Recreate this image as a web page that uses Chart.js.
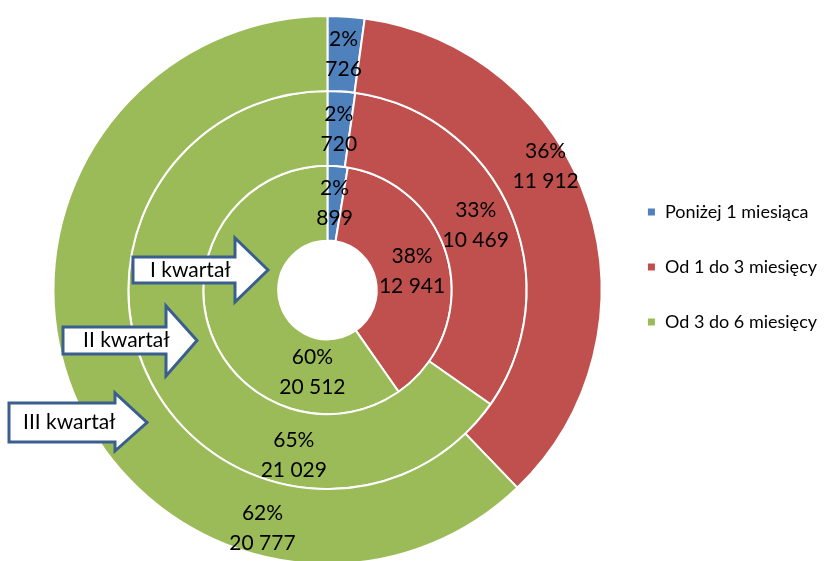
<!DOCTYPE html>
<html>
<head>
<meta charset="utf-8">
<script src="https://cdn.jsdelivr.net/npm/chart.js@4"></script>
<style>
  html,body{margin:0;padding:0;background:#fff;overflow:hidden}
  #wrap{width:829px;height:561px;overflow:hidden}
</style>
</head>
<body>
<div id="wrap"><canvas id="chart" width="829" height="580"></canvas></div>
<script>
// categories (legend)
let categories = ["Poniżej 1 miesiąca","Od 1 do 3 miesięcy","Od 3 do 6 miesięcy"];
let colors = ["#4F81BD","#C0504D","#9BBB59"];

// quarters, outer ring first (Chart.js draws dataset 0 outside)
let quarters = ["III kwartał","II kwartał","I kwartał"];
let q3 = [726, 11912, 20777];
let q2 = [720, 10469, 21029];
let q1 = [899, 12941, 20512];
// percent labels as printed in the picture
let q3pct = [2, 36, 62];
let q2pct = [2, 33, 65];
let q1pct = [2, 38, 60];

// where the labels sit inside each slice (fraction along arc, fraction across ring)
let labelAlong  = [[0.5,0.41,0.264],[0.5,0.5,0.283],[0.5,0.5,0.211]];
let labelAcross = [[0.5,0.69,0.64],[0.5,0.5,0.59],[0.5,0.5,0.455]];

function fmt(v){
    return String(v).replace(/\B(?=(\d{3})+(?!\d))/g," ");
}

const sliceLabels = {
    id:"sliceLabels",
    afterDatasetsDraw(chart){
        let ctx = chart.ctx;
        ctx.save();
        ctx.font = "21px Lato";
        ctx.fillStyle = "#000";
        ctx.textAlign = "center";
        ctx.textBaseline = "middle";
        chart.data.datasets.forEach((ds,di)=>{
            let meta = chart.getDatasetMeta(di);
            meta.data.forEach((arc,i)=>{
                let p = arc.getProps(["x","y","startAngle","endAngle","innerRadius","outerRadius"],true);
                let a = p.startAngle + labelAlong[di][i]*(p.endAngle-p.startAngle);
                let r = p.innerRadius + labelAcross[di][i]*(p.outerRadius-p.innerRadius);
                let x = p.x + Math.cos(a)*r;
                let y = p.y + Math.sin(a)*r;
                ctx.fillText(ds.pct[i]+"%", x, y-15);
                ctx.fillText(fmt(ds.data[i]), x, y+15);
            });
        });
        ctx.restore();
    }
};

// block arrows pointing at the rings
const arrows = {
    id:"arrows",
    afterDraw(chart){
        let ctx = chart.ctx;
        let list = [
            {t:"I kwartał",  x0:133, xh:235, tip:268, yt:257, yb:283, ht:238, hb:302, tx:150},
            {t:"II kwartał", x0:63,  xh:166, tip:197, yt:327, yb:354, ht:306, hb:376, tx:83},
            {t:"III kwartał",x0:9,   xh:115, tip:147, yt:403, yb:442, ht:393, hb:451, tx:23}
        ];
        ctx.save();
        list.forEach(a=>{
            let ty = (a.yt+a.yb)/2;
            ctx.beginPath();
            ctx.moveTo(a.x0,a.yt);
            ctx.lineTo(a.xh,a.yt);
            ctx.lineTo(a.xh,a.ht);
            ctx.lineTo(a.tip,ty);
            ctx.lineTo(a.xh,a.hb);
            ctx.lineTo(a.xh,a.yb);
            ctx.lineTo(a.x0,a.yb);
            ctx.closePath();
            ctx.fillStyle = "#fff";
            ctx.fill();
            ctx.lineWidth = 3;
            ctx.lineJoin = "miter";
            ctx.strokeStyle = "#3A5F8E";
            ctx.stroke();
            ctx.fillStyle = "#000";
            ctx.font = "21px Lato";
            ctx.textAlign = "left";
            ctx.textBaseline = "middle";
            ctx.fillText(a.t, a.tx, ty);
        });
        ctx.restore();
    }
};

// move the legend up a little, it is not centred on the doughnut
const legendShift = {
    id:"legendShift",
    afterLayout(chart){
        let l = chart.legend;
        l.top -= 23;
        l.bottom -= 23;
    }
};

new Chart(document.getElementById("chart"),{
    type:"doughnut",
    data:{
        labels:categories,
        datasets:[
            {label:quarters[0], data:q3, pct:q3pct, backgroundColor:colors},
            {label:quarters[1], data:q2, pct:q2pct, backgroundColor:colors},
            {label:quarters[2], data:q1, pct:q1pct, backgroundColor:colors}
        ]
    },
    options:{
        responsive:false,
        animation:false,
        cutout:"18%",
        borderColor:"#fff",
        borderWidth:2,
        layout:{padding:{top:15,bottom:15,left:45,right:2}},
        elements:{arc:{borderColor:"#fff",borderWidth:2}},
        plugins:{
            tooltip:{enabled:false},
            legend:{
                position:"right",
                labels:{
                    boxWidth:9,
                    boxHeight:9,
                    padding:37,
                    color:"#000",
                    font:{family:"Lato",size:18}
                }
            }
        }
    },
    plugins:[sliceLabels,arrows,legendShift]
});
</script>
</body>
</html>
